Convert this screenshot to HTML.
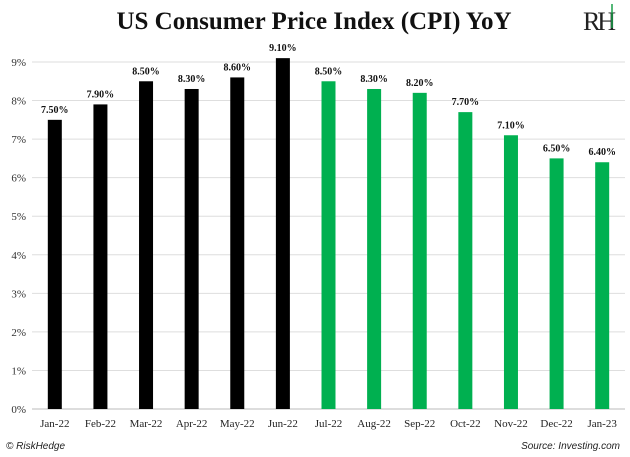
<!DOCTYPE html>
<html><head><meta charset="utf-8"><style>
body{margin:0;background:#fff;}
svg{display:block;font-family:"Liberation Serif",serif;}
</style></head><body>
<svg width="630" height="457" xmlns="http://www.w3.org/2000/svg">
<text x="314" y="29" text-anchor="middle" font-size="25" font-weight="bold" fill="#111">US Consumer Price Index (CPI) YoY</text>
<g>
<text x="598" y="30" text-anchor="middle" font-size="26" fill="#222" letter-spacing="-3">RH</text>
<line x1="612" y1="4" x2="612" y2="28" stroke="#1aa14a" stroke-width="1.5"/>
</g>
<g id="grid"></g><g id="bars"></g><g id="labels"></g>
<text x="6" y="449" font-family="Liberation Sans,sans-serif" font-style="italic" font-size="10" fill="#222">© RiskHedge</text>
<text x="620" y="449" text-anchor="end" font-family="Liberation Sans,sans-serif" font-style="italic" font-size="10" fill="#222">Source: Investing.com</text>
</svg>
<script>
const categories=["Jan-22","Feb-22","Mar-22","Apr-22","May-22","Jun-22","Jul-22","Aug-22","Sep-22","Oct-22","Nov-22","Dec-22","Jan-23"];
const values=[7.5,7.9,8.5,8.3,8.6,9.1,8.5,8.3,8.2,7.7,7.1,6.5,6.4];
const isHighlighted=[false,false,false,false,false,false,true,true,true,true,true,true,true];
const yTicks=[0,1,2,3,4,5,6,7,8,9];
const NS="http://www.w3.org/2000/svg";
const x0=32,x1=625,yBase=409,yTop9=62;
const y=v=>yBase-(yBase-yTop9)*v/9;
const band=(x1-x0)/categories.length;
const xc=i=>x0+band*(i+0.5);
function mk(t,a,p){const e=document.createElementNS(NS,t);for(const k in a)e.setAttribute(k,a[k]);p.appendChild(e);return e;}
const g=document.getElementById('grid'),b=document.getElementById('bars'),l=document.getElementById('labels');
yTicks.forEach(v=>{
 const ln=mk('line',{x1:x0,x2:x1,y1:y(v),y2:y(v),stroke:v===0?'#bbb':'#dedede','stroke-width':1},g);
 
 
 const t=mk('text',{x:26,y:y(v)+4,'text-anchor':'end','font-size':11,fill:'#333'},g);
 t.textContent=v+'%';
 
 
});
categories.forEach((c,i)=>{
 const w=14;
 const r=mk('rect',{x:xc(i)-w/2,y:y(values[i]),width:w,height:yBase-y(values[i]),fill:isHighlighted[i]?'#00b050':'#000'},b);
 
 
 const vt=mk('text',{x:xc(i),y:y(values[i])-7,'text-anchor':'middle','font-size':10,'font-weight':'bold',fill:'#111'},l);
 vt.textContent=values[i].toFixed(2)+'%';
 
 
 const xt=mk('text',{x:xc(i),y:427,'text-anchor':'middle','font-size':11,fill:'#222'},l);
 xt.textContent=c;
 
 
});
</script>
</body></html>
